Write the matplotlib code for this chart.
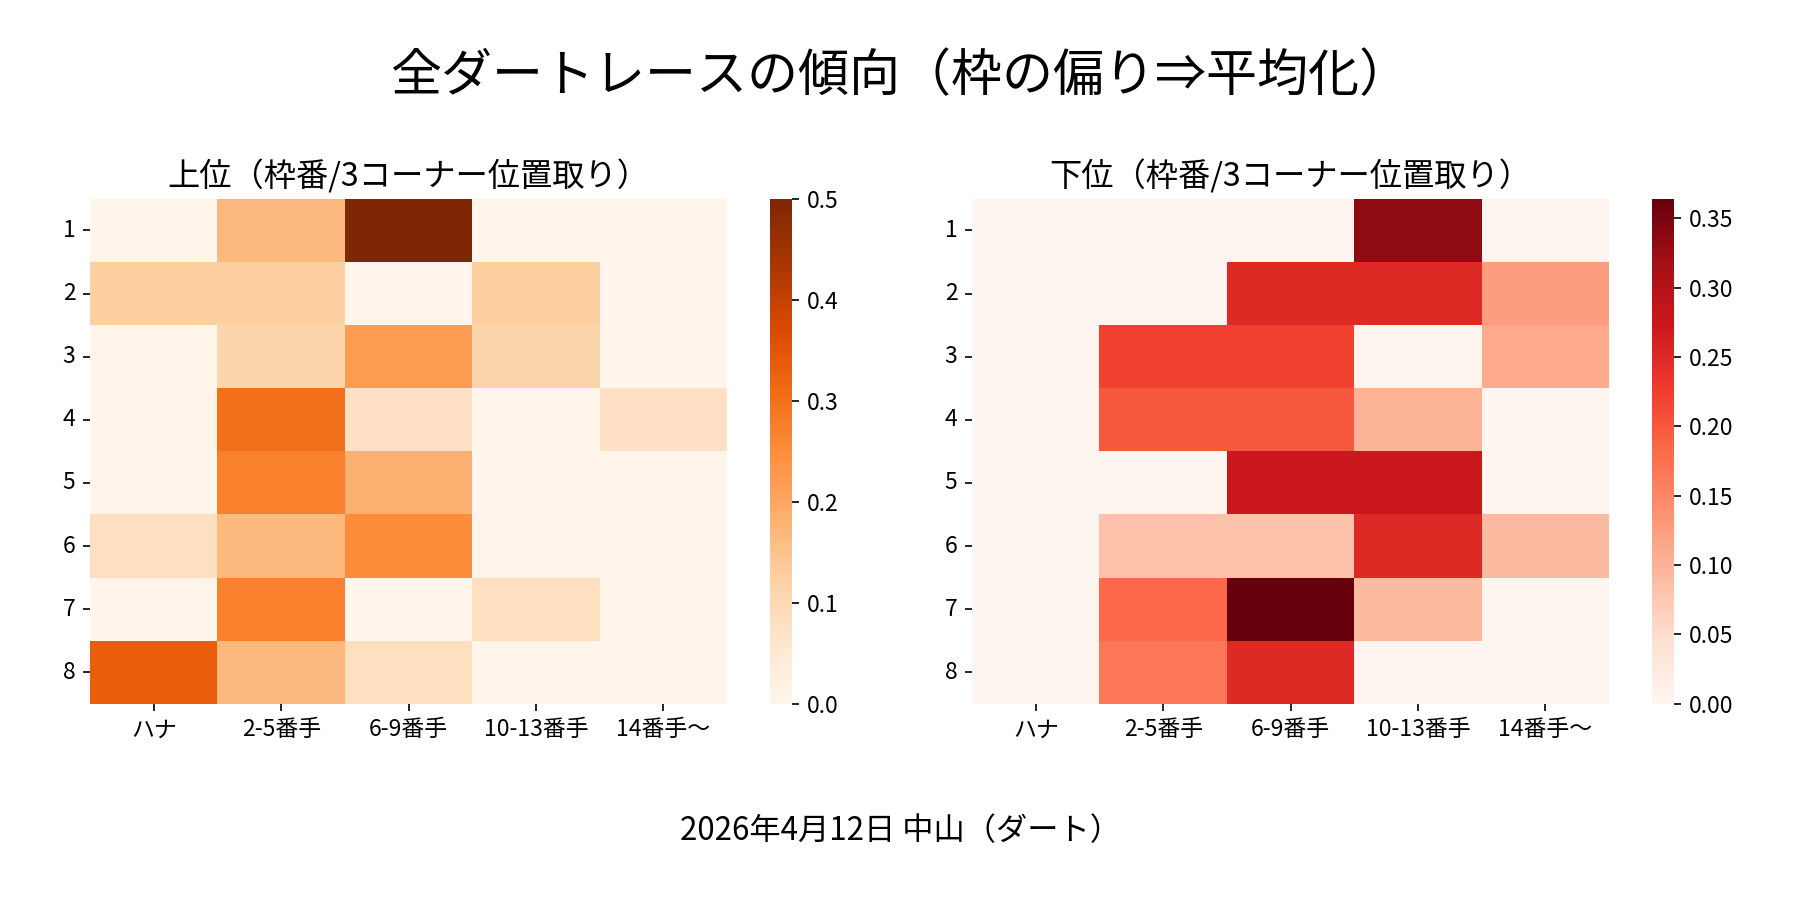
import matplotlib
matplotlib.use("Agg")
import matplotlib.pyplot as plt
import numpy as np
import seaborn as sns

plt.rcParams['font.family'] = ['Noto Sans CJK JP', 'DejaVu Sans']
plt.rcParams['xtick.labelsize'] = 11
plt.rcParams['ytick.labelsize'] = 11

# data
waku = ["1", "2", "3", "4", "5", "6", "7", "8"]
positions = ["ハナ", "2-5番手", "6-9番手", "10-13番手", "14番手〜"]

upper = np.array([
    [0.0,   0.167, 0.5,   0.0,   0.0],
    [0.125, 0.125, 0.0,   0.125, 0.0],
    [0.0,   0.111, 0.222, 0.111, 0.0],
    [0.0,   0.3,   0.077, 0.0,   0.077],
    [0.0,   0.273, 0.182, 0.0,   0.0],
    [0.083, 0.167, 0.25,  0.0,   0.0],
    [0.0,   0.273, 0.0,   0.083, 0.0],
    [0.333, 0.167, 0.083, 0.0,   0.0],
])

lower = np.array([
    [0.0, 0.0,   0.0,   0.333, 0.0],
    [0.0, 0.0,   0.25,  0.25,  0.125],
    [0.0, 0.222, 0.222, 0.0,   0.111],
    [0.0, 0.2,   0.2,   0.1,   0.0],
    [0.0, 0.0,   0.273, 0.273, 0.0],
    [0.0, 0.083, 0.083, 0.25,  0.091],
    [0.0, 0.182, 0.364, 0.091, 0.0],
    [0.0, 0.167, 0.25,  0.0,   0.0],
])

fig = plt.figure(figsize=(12, 6), dpi=150)

ax1 = fig.add_axes([0.050, 0.218, 0.354, 0.561])
cax1 = fig.add_axes([0.428, 0.218, 0.012, 0.561])
ax2 = fig.add_axes([0.540, 0.218, 0.354, 0.561])
cax2 = fig.add_axes([0.918, 0.218, 0.012, 0.561])

sns.heatmap(upper, ax=ax1, cbar_ax=cax1, cmap="Oranges", vmin=0, vmax=0.5,
            xticklabels=positions, yticklabels=waku)
sns.heatmap(lower, ax=ax2, cbar_ax=cax2, cmap="Reds", vmin=0, vmax=lower.max(),
            xticklabels=positions, yticklabels=waku)

ax1.set_title("上位（枠番/3コーナー位置取り）", fontsize=15.5)
ax2.set_title("下位（枠番/3コーナー位置取り）", fontsize=15.5)
for ax in (ax1, ax2, cax1, cax2):
    ax.tick_params(axis='y', rotation=0, labelsize=11)
    ax.tick_params(axis='x', rotation=0, labelsize=11)

fig.suptitle("全ダートレースの傾向（枠の偏り⇒平均化）", fontsize=24.5, y=0.945)
fig.text(0.5, 0.077, "2026年4月12日 中山（ダート）", ha='center', va='center', fontsize=15)

plt.savefig("out.png", dpi=150)
plt.close()
